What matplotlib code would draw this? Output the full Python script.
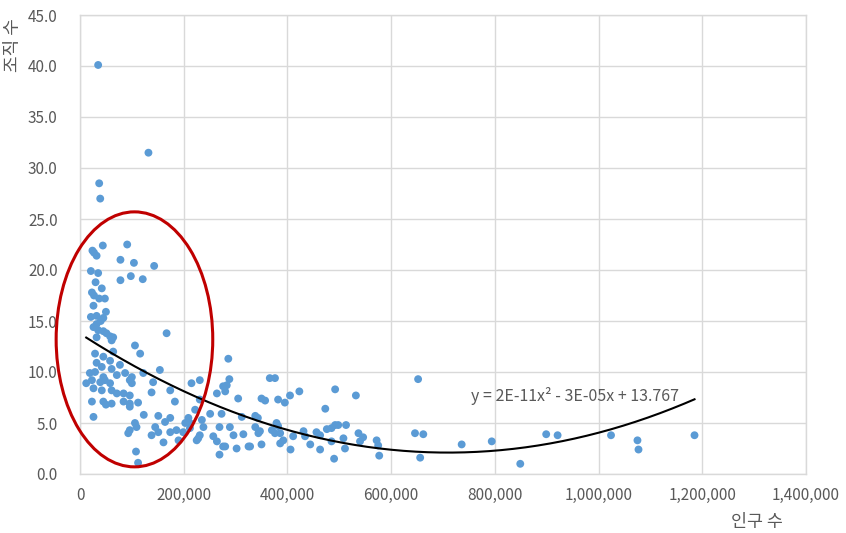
import numpy as np
import matplotlib
matplotlib.use("Agg")
import matplotlib.pyplot as plt
from matplotlib.patches import Ellipse
from matplotlib.ticker import FuncFormatter

plt.rcParams['font.family'] = ['Noto Sans CJK KR', 'DejaVu Sans']

# 인구 수 (population) per region
population = [
    35000, 132000, 37000, 39000, 44000, 91000, 24000, 27000, 32000, 78000,
    104000, 143000, 21000, 35000, 98000, 78000, 121000, 30000, 42000, 23000,
    27000, 37000, 48000, 26000, 50000, 21000, 32000, 40000, 45000, 32000,
    26000, 167000, 35000, 45000, 51000, 58000, 64000, 32000, 61000, 106000,
    116000, 29000, 45000, 64000, 58000, 32000, 42000, 77000, 61000, 154000,
    19000, 29000, 45000, 71000, 87000, 100000, 122000, 12000, 23000, 39000,
    48000, 58000, 96000, 100000, 141000, 26000, 42000, 61000, 71000, 84000,
    96000, 138000, 174000, 23000, 45000, 61000, 84000, 96000, 112000, 183000,
    50000, 96000, 26000, 123000, 151000, 164000, 174000, 106000, 109000, 96000,
    93000, 145000, 151000, 138000, 174000, 186000, 199000, 212000, 203000, 209000,
    161000, 190000, 225000, 231000, 238000, 235000, 108000, 112000,
    286000, 215000, 231000, 276000, 288000, 264000, 280000, 366000, 376000, 305000,
    350000, 357000, 382000, 395000, 405000, 423000, 473000, 222000, 251000, 273000,
    312000, 338000, 212000, 269000, 289000, 296000, 315000, 338000, 344000, 347000,
    370000, 386000, 386000, 392000, 411000, 431000, 434000, 456000, 476000, 257000,
    264000, 276000, 280000, 302000, 325000, 328000, 350000, 406000, 444000, 463000,
    269000, 228000, 379000, 382000, 231000, 283000, 343000, 376000,
    492000, 532000, 485000, 492000, 498000, 513000, 537000, 546000, 540000, 572000,
    575000, 463000, 485000, 508000, 511000, 490000, 577000, 652000, 646000, 662000,
    656000, 736000, 794000, 849000, 899000, 921000, 1024000, 1075000, 1077000, 1185000,
]

# 조직 수 (number of organisations) per region
organizations = [
    40.1, 31.5, 28.5, 27.0, 22.4, 22.5, 21.9, 21.7, 21.4, 21.0,
    20.7, 20.4, 19.9, 19.7, 19.4, 19.0, 19.1, 18.8, 18.2, 17.8,
    17.5, 17.2, 17.2, 16.5, 15.9, 15.4, 15.5, 15.0, 15.3, 14.7,
    14.4, 13.8, 14.1, 14.0, 13.8, 13.5, 13.4, 13.4, 13.1, 12.6,
    11.8, 11.8, 11.5, 12.0, 11.1, 10.9, 10.5, 10.7, 10.3, 10.2,
    9.9, 10.0, 9.5, 9.7, 9.9, 9.5, 9.9, 8.9, 9.2, 9.0,
    9.2, 8.9, 9.2, 8.9, 9.0, 8.4, 8.2, 8.2, 7.9, 7.9,
    7.7, 8.0, 8.2, 7.1, 7.1, 6.9, 7.1, 6.9, 7.0, 7.1,
    6.8, 6.6, 5.6, 5.8, 5.7, 5.1, 5.5, 5.0, 4.6, 4.3,
    4.0, 4.6, 4.1, 3.8, 4.1, 4.3, 4.1, 4.5, 5.0, 5.5,
    3.1, 3.3, 3.3, 3.8, 4.6, 5.3, 2.2, 1.1,
    11.3, 8.9, 9.2, 8.6, 9.3, 7.9, 8.1, 9.4, 9.4, 7.4,
    7.4, 7.2, 7.3, 7.0, 7.7, 8.1, 6.4, 6.3, 5.9, 5.9,
    5.6, 5.7, 5.0, 4.6, 4.6, 3.8, 3.9, 4.6, 4.0, 4.2,
    4.3, 4.0, 3.0, 3.3, 3.7, 4.2, 3.7, 4.1, 4.4, 3.7,
    3.2, 2.7, 2.7, 2.5, 2.7, 2.7, 2.9, 2.4, 2.9, 2.4,
    1.9, 3.5, 5.0, 4.7, 7.3, 8.7, 5.5, 4.0,
    8.3, 7.7, 4.5, 4.8, 4.8, 4.8, 4.0, 3.6, 3.2, 3.3,
    2.8, 3.8, 3.2, 3.5, 2.5, 1.5, 1.8, 9.3, 4.0, 3.9,
    1.6, 2.9, 3.2, 1.0, 3.9, 3.8, 3.8, 3.3, 2.4, 3.8,
]

# Polynomial (order 2) trendline coefficients: a*x^2 + b*x + c
trend_coef = [2.315e-11, -3.287e-05, 13.767]

x_ticks = list(range(0, 1400001, 200000))
y_ticks = [v * 5.0 for v in range(10)]

TEXT_GRAY = '#595959'
GRID_GRAY = '#D9D9D9'

fig = plt.figure(figsize=(8.46, 5.33), dpi=100)
ax = fig.add_axes([80 / 846, 59 / 533, 726 / 846, 459 / 533])

ax.scatter(population, organizations, s=32, color='#5B9BD5', edgecolors='none', zorder=2)

xs = np.linspace(min(population), max(population), 300)
ax.plot(xs, np.polyval(trend_coef, xs), color='black', lw=1.5, zorder=3)

a, b, c = trend_coef
eq = f"y = {a:.0E}x² - {abs(b):.0E}x + {c:.3f}"
ax.text(955000, 6.8, eq, ha='center', va='bottom', fontsize=11.5, color=TEXT_GRAY, zorder=5)

# highlighted cluster of small regions
ax.add_patch(Ellipse((105000, 13.2), width=302000, height=25.0, fill=False,
                     edgecolor='#C00000', lw=2.2, clip_on=False, zorder=4))

ax.set_xlim(0, 1400000)
ax.set_ylim(0, 45)
ax.set_xticks(x_ticks)
ax.set_yticks(y_ticks)
ax.xaxis.set_major_formatter(FuncFormatter(lambda v, p: f"{int(v):,}"))
ax.yaxis.set_major_formatter(FuncFormatter(lambda v, p: f"{v:.1f}"))
ax.tick_params(axis='both', length=0, labelsize=11, labelcolor=TEXT_GRAY)
ax.tick_params(axis='x', pad=9)
ax.tick_params(axis='y', pad=16)
ax.grid(True, color=GRID_GRAY, lw=1.0, zorder=0)
ax.set_axisbelow(True)
for sp in ax.spines.values():
    sp.set_color(GRID_GRAY)
    sp.set_linewidth(1.0)

fig.text(757 / 846, 1 - 522 / 533, "인구 수", ha='center', va='center', fontsize=12.5, color=TEXT_GRAY)
fig.text(13 / 846, 1 - 45 / 533, "조직 수", ha='center', va='center', rotation=90, fontsize=13, color=TEXT_GRAY)

fig.savefig("out.png", dpi=100)
